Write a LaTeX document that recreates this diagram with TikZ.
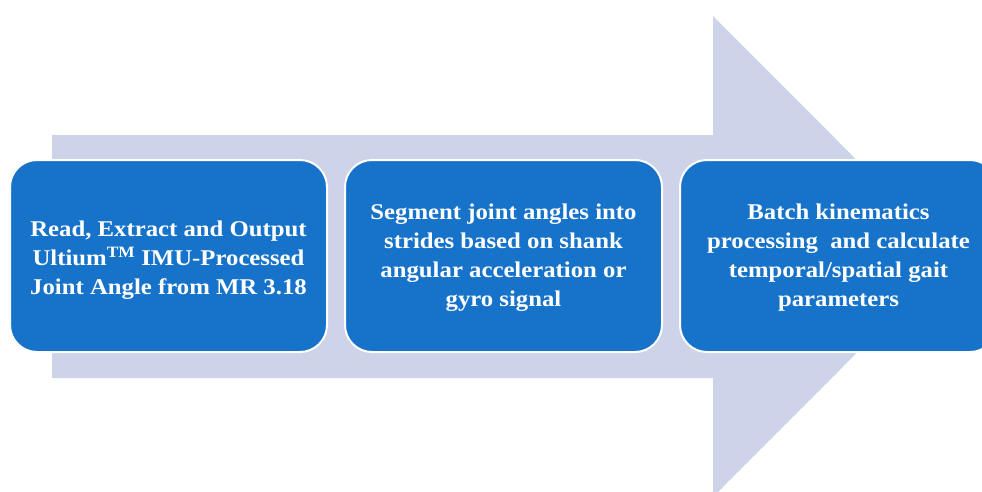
\documentclass[tikz,border=0pt]{standalone}
\usepackage{fontspec}
\setmainfont{Liberation Serif}[FakeStretch=1.1]
\definecolor{shaftgrey}{RGB}{205,212,234}
\definecolor{stepblue}{RGB}{23,115,201}
\tikzset{
  stepbox/.style={draw=white, line width=2pt, fill=stepblue, rounded corners=27pt,
    minimum width=317pt, minimum height=192pt, inner sep=0pt},
  steptext/.style={text=white, align=center, font=\bfseries\fontsize{22.5}{29}\selectfont}
}
\begin{document}
\begin{tikzpicture}[x=1pt,y=-1pt]
  \useasboundingbox (0,0) rectangle (982,491);
  \clip (0,0) rectangle (982,491);
  % background process arrow
  \fill[shaftgrey] (52,135) -- (713,135) -- (713,16) -- (953,256.5)
    -- (713,497) -- (713,378) -- (52,378) -- cycle;
  % process steps
  \node[stepbox] (s1) at (168.5,256) {};
  \node[stepbox] (s2) at (503.5,256) {};
  \node[stepbox] (s3) at (838.5,256) {};
  \node[steptext] (t1) at ([yshift=-4pt]s1.center) {Read, Extract and Output\\Ultium\textsuperscript{TM} IMU-Processed\\Joint Angle from MR 3.18};
  \node[steptext] (t2) at ([yshift=-2pt]s2.center) {Segment joint angles into\\strides based on shank\\angular acceleration or\\gyro signal};
  \node[steptext] (t3) at ([yshift=-2pt]s3.center) {Batch kinematics\\processing\ \ and calculate\\temporal/spatial gait\\parameters};
\end{tikzpicture}
\end{document}
